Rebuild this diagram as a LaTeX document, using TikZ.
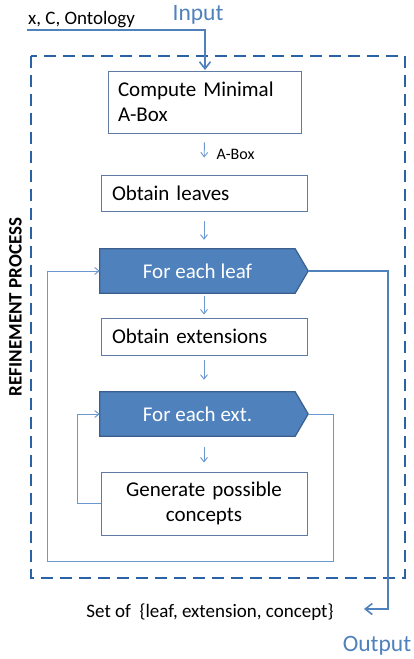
\documentclass[tikz,border=0pt]{standalone}
\usepackage{fontspec}
\setmainfont{Carlito}
\usetikzlibrary{arrows.meta,calc,backgrounds}
\definecolor{lineblue}{HTML}{4F81BD}
\definecolor{loopblue}{HTML}{6B98D0}
\definecolor{dashblue}{HTML}{2B62A6}
\definecolor{boxborder}{HTML}{5F7BA3}
\definecolor{fillblue}{HTML}{4F81BD}
\definecolor{edgeblue}{HTML}{3A5F8E}
\begin{document}
\begin{tikzpicture}[x=1pt,y=-1pt,
  plainbox/.style={draw=boxborder, line width=0.9pt, fill=white, inner sep=0pt,
    font=\fontsize{21}{25}\selectfont},
  loopbody/.style={inner sep=0pt, minimum width=195pt, minimum height=44pt,
    text=white, font=\fontsize{21}{25}\selectfont},
  smallarr/.style={draw=loopblue, line width=0.9pt, -{Straight Barb[length=4.5pt,width=7pt]}},
  looparr/.style={draw=loopblue, line width=0.9pt, -{Straight Barb[length=4.5pt,width=7pt]}},
  bigarr/.style={draw=lineblue, line width=1.6pt, -{Straight Barb[length=7pt,width=11pt]}},
  lbl/.style={inner sep=0pt, font=\fontsize{19}{22}\selectfont},
  bluelbl/.style={inner sep=0pt, text=lineblue, font=\fontsize{23.5}{27}\selectfont}
]
\useasboundingbox (0,0) rectangle (414,659);

% dashed frame
\draw[dashblue, line width=1.8pt, dash pattern=on 12pt off 7pt] (31,56) rectangle (405,578);

% labels
\node[lbl, anchor=west] (inp) at (28,20) {x, C, Ontology};
\node[bluelbl] (inputlbl) at (198,15) {Input};
\node[lbl, rotate=90, font=\fontsize{19}{22}\selectfont\bfseries] (refine) at (15.5,307) {REFINEMENT PROCESS};
\node[lbl] (setof) at (210,612) {Set of \ \{leaf, extension, concept\}};
\node[bluelbl] (outputlbl) at (377,646) {Output};

% boxes
\node[plainbox, minimum width=193pt, minimum height=62pt, text width=173pt, align=left] (compute) at (204.5,102) {Compute Minimal\\A-Box};
\node[plainbox, minimum width=206pt, minimum height=36pt, text width=184pt, align=left] (leaves) at (204,193) {Obtain leaves};
\node[loopbody] (leaf) at (197.5,271) {For each leaf};
\node[plainbox, minimum width=206pt, minimum height=37pt, text width=184pt, align=left] (exts) at (204,336.5) {Obtain extensions};
\node[loopbody] (ext) at (197.5,414) {For each ext.};
\node[plainbox, minimum width=206pt, minimum height=63pt, text width=190pt, align=center] (gen) at (204,503.5) {Generate possible\\concepts};

\coordinate (leaftip) at ($(leaf.east)+(13,0)$);
\coordinate (exttip) at ($(ext.east)+(13,0)$);

\begin{pgfonlayer}{background}
\draw[fill=fillblue, draw=edgeblue, line width=1.2pt, line join=miter]
  (leaf.north west) -- (leaf.north east) -- (leaftip) -- (leaf.south east) -- (leaf.south west) -- cycle;
\draw[fill=fillblue, draw=edgeblue, line width=1.2pt, line join=miter]
  (ext.north west) -- (ext.north east) -- (exttip) -- (ext.south east) -- (ext.south west) -- cycle;
\end{pgfonlayer}

% input arrow
\coordinate (instart) at (27,30);
\draw[bigarr] (instart) -- (205,30) -- (205,70);

% vertical arrows between steps
\draw[smallarr, shorten <=9pt, shorten >=17pt] (compute.south) -- (leaves.north)
  node[pos=0.5, right=12pt, inner sep=0pt, font=\fontsize{16}{18}\selectfont, text=black] (abox) {A-Box};
\draw[smallarr, shorten <=10pt, shorten >=9pt] (leaves.south) -- (leaf.north -| leaves.south);
\draw[smallarr, shorten <=3pt, shorten >=3pt] (leaf.south -| exts.north) -- (exts.north);
\draw[smallarr, shorten <=5pt, shorten >=12pt] (exts.south) -- (ext.north -| exts.south);
\draw[smallarr, shorten <=11pt, shorten >=9pt] (ext.south -| gen.north) -- (gen.north);

% inner loop
\draw[looparr] (gen.west) -- (77,503.5) -- (77,414) -- (ext.west);
% outer loop
\draw[looparr] (exttip) -- (333,414) -- (333,561) -- (47,561) -- (47,271) -- (leaf.west);
% output
\coordinate (outend) at (364,609);
\draw[bigarr] (leaftip) -- (388,271) -- (388,609) -- (outend);
\end{tikzpicture}
\end{document}
